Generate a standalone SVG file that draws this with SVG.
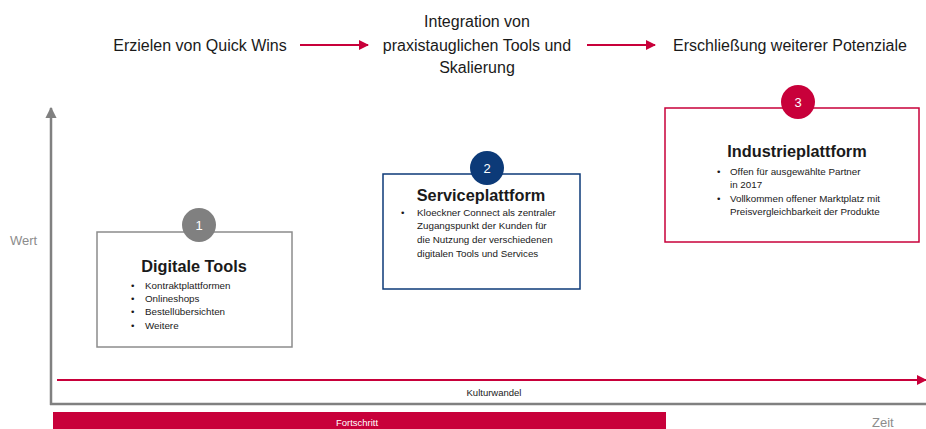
<svg xmlns="http://www.w3.org/2000/svg" width="926" height="429" viewBox="0 0 926 429">
  <style>
    text { font-family: "Liberation Sans", "Noto Sans", Arial, sans-serif; fill: #1a1a1a; }
    .head { font-size: 16px; }
    .title { font-size: 16.3px; font-weight: bold; text-anchor: middle; }
    .item { font-size: 9.8px; }
    .num { font-size: 13px; fill: #ffffff; text-anchor: middle; }
    .axis-label { font-size: 13px; fill: #8c8c8c; }
    .red-line { stroke: #c8003a; stroke-width: 2; fill: none; }
    .axis { stroke: #808080; stroke-width: 2.5; fill: none; }
  </style>
  <defs>
    <marker id="arrow-red" viewBox="0 0 10 10" refX="9" refY="5" markerWidth="5" markerHeight="5" orient="auto" markerUnits="strokeWidth">
      <path d="M0,0 L10,5 L0,10 Z" fill="#c8003a"/>
    </marker>
    <marker id="arrow-gray" viewBox="0 0 10 10" refX="9" refY="5" markerWidth="4.5" markerHeight="4.5" orient="auto" markerUnits="strokeWidth">
      <path d="M0,0 L10,5 L0,10 Z" fill="#808080"/>
    </marker>
  </defs>

  <!-- Top row: strategy stages -->
  <g id="stage-quickwins">
    <text class="head" x="200" y="51" text-anchor="middle">Erzielen von Quick Wins</text>
  </g>
  <g id="stage-integration">
    <text class="head" x="477" y="27" text-anchor="middle">Integration von</text>
    <text class="head" x="477" y="51" text-anchor="middle">praxistauglichen Tools und</text>
    <text class="head" x="477" y="73" text-anchor="middle">Skalierung</text>
  </g>
  <g id="stage-potenziale">
    <text class="head" x="790" y="51" text-anchor="middle">Erschließung weiterer Potenziale</text>
  </g>

  <!-- Connectors and axes -->
  <g id="connectors">
    <line class="red-line" x1="300" y1="45" x2="368" y2="45" marker-end="url(#arrow-red)"/>
    <line class="red-line" x1="587" y1="45" x2="655" y2="45" marker-end="url(#arrow-red)"/>
    <line class="axis" x1="51" y1="405" x2="51" y2="108" marker-end="url(#arrow-gray)"/>
    <line class="axis" x1="50" y1="404" x2="926" y2="404"/>
    <line class="red-line" x1="57" y1="380" x2="926" y2="380" marker-end="url(#arrow-red)"/>
  </g>

  <!-- Axis labels -->
  <text class="axis-label" x="10" y="245">Wert</text>
  <text class="axis-label" x="872" y="427">Zeit</text>
  <text x="494" y="396" text-anchor="middle" style="font-size:9.5px">Kulturwandel</text>

  <!-- Progress bar -->
  <g id="fortschritt">
    <rect x="53" y="412" width="613" height="20" fill="#c8003a"/>
    <text x="357" y="426" text-anchor="middle" style="font-size:9.5px; fill:#ffffff">Fortschritt</text>
  </g>

  <!-- Stage 1 -->
  <g id="digitale-tools">
    <rect x="97" y="232" width="195" height="115" fill="#ffffff" stroke="#8c8c8c" stroke-width="1.5"/>
    <circle cx="199" cy="225" r="17" fill="#808080"/>
    <text class="num" x="199" y="230">1</text>
    <text class="title" x="194" y="272">Digitale Tools</text>
    <text class="item" x="131" y="289">•</text><text class="item" x="145" y="289">Kontraktplattformen</text>
    <text class="item" x="131" y="302">•</text><text class="item" x="145" y="302">Onlineshops</text>
    <text class="item" x="131" y="315">•</text><text class="item" x="145" y="315">Bestellübersichten</text>
    <text class="item" x="131" y="329">•</text><text class="item" x="145" y="329">Weitere</text>
  </g>

  <!-- Stage 2 -->
  <g id="serviceplattform">
    <rect x="383" y="174" width="197" height="115" fill="#ffffff" stroke="#0c3a78" stroke-width="1.5"/>
    <circle cx="487" cy="168" r="17" fill="#0c3a78"/>
    <text class="num" x="487" y="173">2</text>
    <text class="title" x="481" y="201">Serviceplattform</text>
    <text class="item" x="401" y="216">•</text><text class="item" x="417" y="216">Kloeckner Connect als zentraler</text>
    <text class="item" x="417" y="229">Zugangspunkt der Kunden für</text>
    <text class="item" x="417" y="243">die Nutzung der verschiedenen</text>
    <text class="item" x="417" y="257">digitalen Tools und Services</text>
  </g>

  <!-- Stage 3 -->
  <g id="industrieplattform">
    <rect x="665" y="108" width="254" height="134" fill="#ffffff" stroke="#c8003a" stroke-width="1.5"/>
    <circle cx="798" cy="102" r="17" fill="#c8003a"/>
    <text class="num" x="798" y="107">3</text>
    <text class="title" x="797" y="157">Industrieplattform</text>
    <text class="item" x="717" y="175">•</text><text class="item" x="730" y="175">Offen für ausgewählte Partner</text>
    <text class="item" x="730" y="188">in 2017</text>
    <text class="item" x="717" y="202">•</text><text class="item" x="730" y="202">Vollkommen offener Marktplatz mit</text>
    <text class="item" x="730" y="215">Preisvergleichbarkeit der Produkte</text>
  </g>
</svg>
